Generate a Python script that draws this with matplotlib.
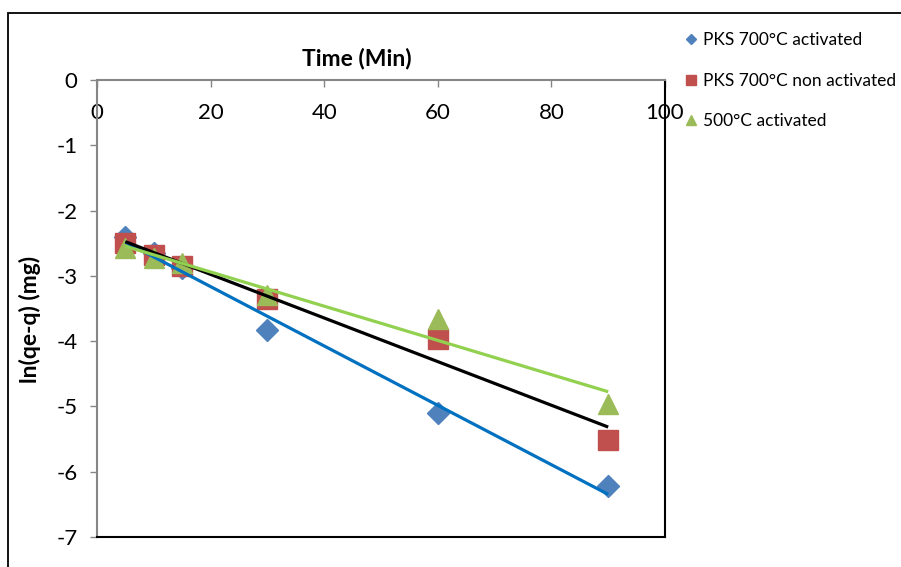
import numpy as np
import matplotlib
matplotlib.use("Agg")
import matplotlib.pyplot as plt
from matplotlib.patches import Rectangle
from matplotlib.lines import Line2D

plt.rcParams['font.family'] = ['Lato', 'DejaVu Sans']

time = [5, 10, 15, 30, 60, 90]
pks700_act = [-2.40, -2.65, -2.88, -3.83, -5.10, -6.22]
pks700_non = [-2.50, -2.68, -2.85, -3.35, -3.97, -5.52]
act500 = [-2.57, -2.72, -2.80, -3.29, -3.66, -4.96]
labels = ["PKS 700°C activated", "PKS 700°C non activated", "500°C activated"]
x_ticks = [0, 20, 40, 60, 80, 100]
y_ticks = [0, -1, -2, -3, -4, -5, -6, -7]

W, H = 901, 567
fig = plt.figure(figsize=(W / 100, H / 100), dpi=100)
fig.patches.append(Rectangle((8 / W, -0.1), 1.2, 1 - 13 / H + 0.1, transform=fig.transFigure,
                             fill=False, edgecolor='black', linewidth=1.3))

ax = fig.add_axes([97 / W, 1 - 537 / H, (665 - 97) / W, (537 - 80) / H])

mcols = ['#4F81BD', '#C0504D', '#9BBB59']
lcols = ['#0070C0', '#000000', '#92D050']
markers = ['D', 's', '^']
msizes = [11, 14, 14]
series = [pks700_act, pks700_non, act500]

t = np.array(time, dtype=float)
for i, ys in enumerate(series):
    ax.plot(t, ys, linestyle='none', marker=markers[i], markersize=msizes[i],
            color=mcols[i], markeredgecolor=mcols[i], zorder=3 + i * 0.1)
for i, ys in enumerate(series):
    k, b = np.polyfit(t, np.array(ys), 1)
    xs = np.array([t.min(), t.max()])
    ax.plot(xs, k * xs + b, color=lcols[i], linewidth=2.3, zorder=5 + i * 0.1,
            solid_capstyle='butt')

ax.set_xlim(0, 100)
ax.set_ylim(-7, 0)
ax.set_xticks(x_ticks)
ax.set_yticks(y_ticks)
ax.set_yticklabels([str(v) for v in y_ticks], fontsize=16)
ax.set_xticklabels([str(v) for v in x_ticks], fontsize=16)

ax.xaxis.set_ticks_position('top')
ax.tick_params(axis='x', top=True, bottom=False, labeltop=True, labelbottom=False,
               direction='in', length=5, width=1, color='#868686', pad=-31)
ax.tick_params(axis='y', direction='out', length=5, width=1, color='#868686', pad=9)

for s in ['top', 'left']:
    ax.spines[s].set_color('#868686')
    ax.spines[s].set_linewidth(1.5)
for s in ['right', 'bottom']:
    ax.spines[s].set_color('black')
    ax.spines[s].set_linewidth(1.5)

ax.xaxis.set_label_position('top')
ax.set_xlabel('Time (Min)', fontsize=16.5, fontweight='bold')
ax.xaxis.set_label_coords((357 - 97) / 568, 1 + (80 - 65) / 457)
ax.set_ylabel('ln(qe-q) (mg)', fontsize=16.5, fontweight='bold')
ax.yaxis.set_label_coords((41 - 97) / 568, 1 - (319 - 80) / 457)

handles = [Line2D([], [], linestyle='none', marker=markers[i], color=mcols[i],
                  markersize=[5.5, 7.5, 7.5][i]) for i in range(3)]
fig.legend(handles, labels, loc='upper left', bbox_to_anchor=(685 / W, 1 - 32 / H),
           frameon=False, fontsize=12.5, labelspacing=1.42, handlelength=0.7,
           handletextpad=0.35, borderaxespad=0, borderpad=0)

fig.savefig('out.png', dpi=100)
